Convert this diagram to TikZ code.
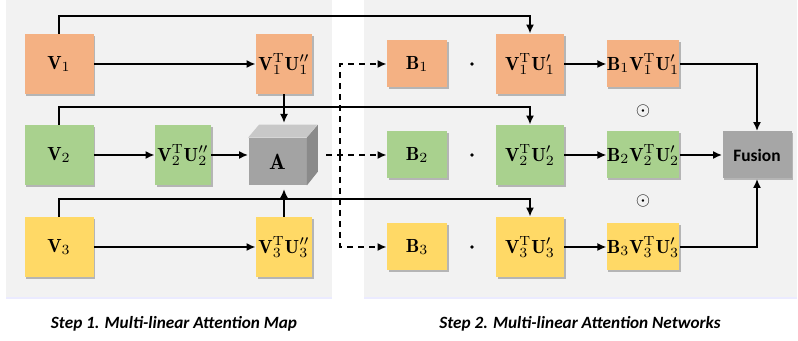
\documentclass[tikz,border=0pt]{standalone}
\usepackage{fontspec}
\newfontfamily\capfont{Carlito}
\usetikzlibrary{arrows.meta,positioning,shadows}

\definecolor{panelgray}{HTML}{F2F2F2}
\definecolor{boxorange}{HTML}{F4B183}
\definecolor{boxgreen}{HTML}{A9D18E}
\definecolor{boxyellow}{HTML}{FFD966}
\definecolor{fusiongray}{HTML}{A6A6A6}
\definecolor{cubefront}{HTML}{A3A3A3}
\definecolor{cubetop}{HTML}{C8C8C8}
\definecolor{cubeside}{HTML}{8A8A8A}

\begin{document}
\begin{tikzpicture}[x=0.5pt, y=-0.5pt,
    blk/.style={inner sep=0pt, font=\fontsize{9.5}{11}\selectfont,
        drop shadow={shadow xshift=0.8pt, shadow yshift=-0.8pt, fill=black, opacity=0.25}},
    vbox/.style={blk, minimum width=34.5pt, minimum height=30pt},
    vubox/.style={blk, minimum width=28pt, minimum height=30pt},
    vupbox/.style={blk, minimum width=34pt, minimum height=30pt},
    bbox/.style={blk, minimum width=30pt, minimum height=23.5pt},
    bvubox/.style={blk, minimum width=34.5pt, minimum height=23.5pt},
    link/.style={-{Latex[length=4.5pt,width=4pt]}, line width=1pt},
    dlink/.style={link, dash pattern=on 3pt off 2.5pt},
    steplabel/.style={font=\capfont\bfseries\itshape\fontsize{8.6}{10}\selectfont}
]
    \useasboundingbox (0,0) rectangle (798,341);

    % Panels
    \fill[panelgray] (6,0) rectangle (332,298);
    \fill[panelgray] (364,0) rectangle (797,298);
    \draw[blue!8, line width=1pt] (6,298.5) -- (332,298.5);
    \draw[blue!8, line width=1pt] (364,298.5) -- (797,298.5);

    % Step 1 boxes
    \node[vbox, fill=boxorange] (v1) at (59,64) {$\mathbf{V}_1$};
    \node[vubox, fill=boxorange] (m1) at (284,64) {$\mathbf{V}_1^{\mathrm{T}}\mathbf{U}_1''$};
    \node[vbox, fill=boxgreen] (v2) at (59,155) {$\mathbf{V}_2$};
    \node[vubox, fill=boxgreen] (m2) at (183,155) {$\mathbf{V}_2^{\mathrm{T}}\mathbf{U}_2''$};
    \node[vbox, fill=boxyellow] (v3) at (59,247) {$\mathbf{V}_3$};
    \node[vubox, fill=boxyellow] (m3) at (284,247) {$\mathbf{V}_3^{\mathrm{T}}\mathbf{U}_3''$};

    % Attention map cube
    \node[inner sep=0pt, minimum width=29pt, minimum height=23.5pt, fill=cubefront,
        font=\fontsize{11}{12}\selectfont] (A) at (277.5,161.5) {$\mathbf{A}$};
    \fill[cubetop] (A.north west) -- ++(11,-13) -- ++(58,0) -- (A.north east) -- cycle;
    \fill[cubeside] (A.north east) -- ++(11,-13) -- ++(0,47) -- (A.south east) -- cycle;
    \coordinate (Atop) at (284,123);
    \coordinate (Abot) at (284,189);
    \coordinate (Aout) at (326,155);
    \coordinate (split) at (340,155);

    % Step 2 boxes
    \node[bbox, fill=boxorange] (b1) at (417,64) {$\mathbf{B}_1$};
    \node[vupbox, fill=boxorange] (u1) at (530,64) {$\mathbf{V}_1^{\mathrm{T}}\mathbf{U}_1'$};
    \node[bvubox, fill=boxorange] (p1) at (643,64) {$\mathbf{B}_1\mathbf{V}_1^{\mathrm{T}}\mathbf{U}_1'$};
    \node[bbox, fill=boxgreen] (b2) at (417,155) {$\mathbf{B}_2$};
    \node[vupbox, fill=boxgreen] (u2) at (530,155) {$\mathbf{V}_2^{\mathrm{T}}\mathbf{U}_2'$};
    \node[bvubox, fill=boxgreen] (p2) at (643,155) {$\mathbf{B}_2\mathbf{V}_2^{\mathrm{T}}\mathbf{U}_2'$};
    \node[bbox, fill=boxyellow] (b3) at (417,247) {$\mathbf{B}_3$};
    \node[vupbox, fill=boxyellow] (u3) at (530,247) {$\mathbf{V}_3^{\mathrm{T}}\mathbf{U}_3'$};
    \node[bvubox, fill=boxyellow] (p3) at (643,247) {$\mathbf{B}_3\mathbf{V}_3^{\mathrm{T}}\mathbf{U}_3'$};
    \node[bvubox, fill=fusiongray, font=\capfont\bfseries\fontsize{8.7}{10}\selectfont] (fusion) at (757,155) {Fusion};

    % Products
    \foreach \y [count=\i] in {64,155,247} {
        \node[circle, fill=black, inner sep=0pt, minimum size=1.8pt] (dot\i) at (472,\y) {};
    }
    \node[font=\fontsize{9.5}{11}\selectfont] (had1) at (643,111) {$\odot$};
    \node[font=\fontsize{9.5}{11}\selectfont] (had2) at (643,201) {$\odot$};

    % Step 1 connectors
    \draw[link] (v1) -- (m1);
    \draw[link] (v2) -- (m2);
    \draw[link] (v3) -- (m3);
    \draw[link] (m2) -- (m2 -| A.west);
    \draw[link] (m1) -- (Atop);
    \draw[link] (m3) -- (Abot);

    % Skip lines into step 2
    \draw[link] (v1.north) -- ++(0,-18) -| (u1.north);
    \draw[link] (v2.north) -- ++(0,-18) -| (u2.north);
    \draw[link] (v3.north) -- ++(0,-18) -| (u3.north);

    % Attention map into step 2
    \draw[dlink] (Aout) -- (b2.west);
    \draw[dlink] (split) |- (b1.west);
    \draw[dlink] (split) |- (b3.west);

    % Step 2 connectors
    \draw[link] (u1) -- (p1);
    \draw[link] (u2) -- (p2);
    \draw[link] (u3) -- (p3);
    \draw[link] (p1.east) -| (fusion.north);
    \draw[link] (p2) -- (fusion);
    \draw[link] (p3.east) -| (fusion.south);

    % Captions
    \node[steplabel] (s1) at (174,324) {Step 1. Multi-linear Attention Map};
    \node[steplabel] (s2) at (580,324) {Step 2. Multi-linear Attention Networks};
\end{tikzpicture}
\end{document}
